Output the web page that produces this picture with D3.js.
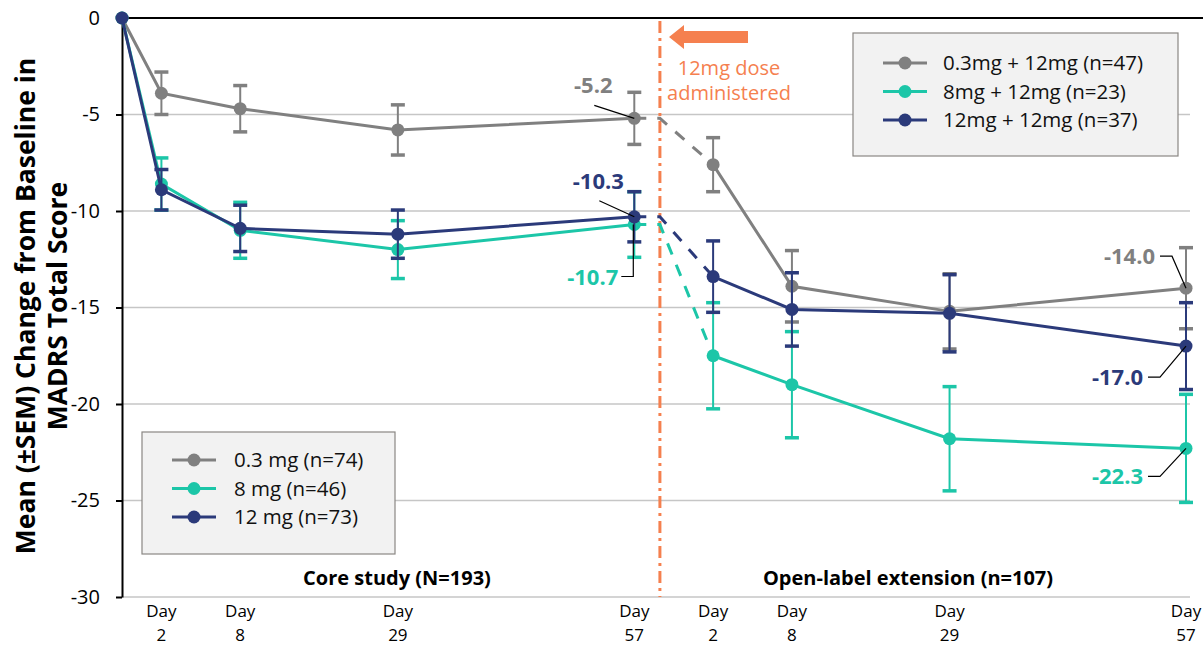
<!DOCTYPE html>
<html>
<head>
<meta charset="utf-8">
<script src="https://cdn.jsdelivr.net/npm/d3@7"></script>
<style>
  body { margin: 0; background: #fff; }
  text { font-family: "Open Sans", "Noto Sans", sans-serif; }
</style>
</head>
<body>
<svg id="chart" width="1203" height="646"></svg>
<script>
// visits: core study (day 0..57) then open-label extension (day 2..57)
var visitDays = ["0", "2", "8", "29", "57", "2", "8", "29", "57"];
var visitPos = [0, 1, 3, 7, 13, 15, 17, 21, 27];   // x value of each visit on the chart
var switchPos = 13.65;                               // 12mg dose administered

var lowMean  = [0, -3.9, -4.7, -5.8, -5.2, -7.6, -13.9, -15.2, -14.0];
var lowSem   = [0, 1.1, 1.2, 1.3, 1.35, 1.4, 1.85, 1.95, 2.1];
var midMean  = [0, -8.6, -11.0, -12.0, -10.7, -17.5, -19.0, -21.8, -22.3];
var midSem   = [0, 1.35, 1.45, 1.5, 1.7, 2.75, 2.75, 2.7, 2.8];
var highMean = [0, -8.9, -10.9, -11.2, -10.3, -13.4, -15.1, -15.3, -17.0];
var highSem  = [0, 1.05, 1.2, 1.25, 1.3, 1.85, 1.9, 2.0, 2.25];

var coreNames = ["0.3 mg (n=74)", "8 mg (n=46)", "12 mg (n=73)"];
var oleNames = ["0.3mg + 12mg (n=47)", "8mg + 12mg (n=23)", "12mg + 12mg (n=37)"];
var colors = ["#808080", "#1cc6a8", "#2b3a7a"];
var yTicks = [0, -5, -10, -15, -20, -25, -30];

var series = [
  { mean: lowMean, sem: lowSem, color: colors[0] },
  { mean: midMean, sem: midSem, color: colors[1] },
  { mean: highMean, sem: highSem, color: colors[2] }
];

var svg = d3.select("#chart");
var x = d3.scaleLinear().domain([0, 27]).range([122, 1186]);
var y = d3.scaleLinear().domain([-30, 0]).range([597, 18]);

// gridlines
svg.append("g").selectAll("line")
  .data(yTicks.filter(function (d) { return d < 0; }))
  .enter().append("line")
  .attr("x1", x(0)).attr("x2", 1190)
  .attr("y1", function (d) { return y(d); })
  .attr("y2", function (d) { return y(d); })
  .attr("stroke", "#c6c6c6").attr("stroke-width", 1.5);

// zero line across the top
svg.append("line")
  .attr("x1", x(0)).attr("x2", 1203)
  .attr("y1", y(0)).attr("y2", y(0))
  .attr("stroke", "#000").attr("stroke-width", 2);

// y axis
var yAxis = svg.append("g")
  .attr("transform", "translate(" + x(0) + ",0)")
  .call(d3.axisLeft(y).tickValues(yTicks).tickSize(6).tickPadding(16).tickSizeOuter(0)
    .tickFormat(function (d) { return String(d); }));
yAxis.select(".domain").attr("stroke", "#000").attr("stroke-width", 2);
yAxis.selectAll(".tick line").attr("stroke", "#000").attr("stroke-width", 2);
yAxis.selectAll(".tick text")
  .attr("font-family", "'Liberation Sans', Arial, sans-serif")
  .attr("font-size", 20).attr("fill", "#000");

// y title
var yTitle = svg.append("text")
  .attr("transform", "translate(0,306) rotate(-90)")
  .attr("text-anchor", "middle")
  .attr("font-family", "'Liberation Sans', Arial, sans-serif")
  .attr("font-weight", "bold").attr("font-size", 26.5).attr("fill", "#000");
yTitle.append("tspan").attr("x", 0).attr("y", 35).text("Mean (\u00b1SEM) Change from Baseline in");
yTitle.append("tspan").attr("x", 0).attr("y", 67).text("MADRS Total Score");

// x tick labels (two lines)
var xl = svg.append("g").selectAll("g")
  .data(visitPos.slice(1))
  .enter().append("g")
  .attr("transform", function (d) { return "translate(" + x(d) + ",0)"; });
xl.append("text").attr("y", 617).attr("text-anchor", "middle")
  .attr("font-size", 17).attr("fill", "#000").text("Day");
xl.append("text").attr("y", 641).attr("text-anchor", "middle")
  .attr("font-size", 17).attr("fill", "#000")
  .text(function (d, i) { return visitDays[i + 1]; });

// section labels
svg.append("text").attr("x", 397).attr("y", 585)
  .attr("text-anchor", "middle").attr("font-weight", "bold").attr("font-size", 20)
  .text("Core study (N=193)");
svg.append("text").attr("x", 908).attr("y", 585)
  .attr("text-anchor", "middle").attr("font-weight", "bold").attr("font-size", 20)
  .text("Open-label extension (n=107)");

// dose switch line + annotation
var orange = "#f5804f";
svg.append("line")
  .attr("x1", x(switchPos)).attr("x2", x(switchPos))
  .attr("y1", y(0) + 3).attr("y2", y(-30))
  .attr("stroke", orange).attr("stroke-width", 3)
  .attr("stroke-dasharray", "12,5,3,5");
svg.append("path")
  .attr("d", "M669,37 L684,25 L684,31 L748,31 L748,43 L684,43 L684,49 Z")
  .attr("fill", orange);
svg.append("text").attr("x", 729).attr("y", 75).attr("text-anchor", "middle")
  .attr("font-size", 20).attr("fill", orange).text("12mg dose");
svg.append("text").attr("x", 729).attr("y", 100).attr("text-anchor", "middle")
  .attr("font-size", 20).attr("fill", orange).text("administered");

// series
var line = d3.line().x(function (d) { return x(d[0]); }).y(function (d) { return y(d[1]); });
series.forEach(function (s) {
  var pts = visitPos.map(function (p, i) { return [p, s.mean[i], s.sem[i]]; });
  var g = svg.append("g");

  // error bars
  pts.filter(function (d) { return d[2] > 0; }).forEach(function (d) {
    g.append("line").attr("x1", x(d[0])).attr("x2", x(d[0]))
      .attr("y1", y(d[1] + d[2])).attr("y2", y(d[1] - d[2]))
      .attr("stroke", s.color).attr("stroke-width", 2);
    [d[1] + d[2], d[1] - d[2]].forEach(function (v) {
      g.append("line").attr("x1", x(d[0]) - 7).attr("x2", x(d[0]) + 7)
        .attr("y1", y(v)).attr("y2", y(v))
        .attr("stroke", s.color).attr("stroke-width", 3.5);
    });
  });

  g.append("path").datum(pts.slice(0, 5)).attr("d", line)
    .attr("fill", "none").attr("stroke", s.color).attr("stroke-width", 3);
  g.append("path").datum([pts[4], [switchPos, s.mean[4]], pts[5]]).attr("d", line)
    .attr("fill", "none").attr("stroke", s.color).attr("stroke-width", 3)
    .attr("stroke-dasharray", "12,11");
  g.append("path").datum(pts.slice(5)).attr("d", line)
    .attr("fill", "none").attr("stroke", s.color).attr("stroke-width", 3);

  g.selectAll("circle").data(pts).enter().append("circle")
    .attr("cx", function (d) { return x(d[0]); })
    .attr("cy", function (d) { return y(d[1]); })
    .attr("r", 6.5).attr("fill", s.color);
});

// value callouts: [series, visit index, label dx, label dy, leader style]
var callouts = [
  [0, 4, -41, -33, "elbow0"],
  [2, 4, -36, -36, "elbow0"],
  [1, 4, -44, 52, "down"],
  [0, 8, -59, -32, "side"],
  [2, 8, -71, 31, "side"],
  [1, 8, -71, 28, "side"]
];
callouts.forEach(function (c) {
  var s = series[c[0]];
  var px = x(visitPos[c[1]]), py = y(s.mean[c[1]]);
  var lx = px + c[2], ly = py + c[3];
  var pathD;
  if (c[4] === "elbow0") pathD = "M" + (lx + 1) + "," + (ly + 20) + " L" + px + "," + py;
  else if (c[4] === "down") pathD = "M" + (px - 1) + "," + py + " L" + (px - 1) + "," + (ly) + " L" + (lx + 31) + "," + ly;
  else pathD = "M" + (lx + 33) + "," + ly + " L" + (lx + 45) + "," + ly + " L" + px + "," + py;
  svg.append("path").attr("d", pathD).attr("fill", "none")
    .attr("stroke", "#000").attr("stroke-width", 1.2);
  svg.append("text")
    .attr("x", c[4] === "elbow0" ? lx : lx - 2)
    .attr("y", ly + 8)
    .attr("text-anchor", c[4] === "elbow0" ? "middle" : "end")
    .attr("font-weight", "bold").attr("font-size", 22).attr("fill", s.color)
    .attr("transform", c[4] === "elbow0" ? null : "translate(30,0)")
    .text(s.mean[c[1]].toFixed(1));
});

// legends
function legend(names, bx, by, bw, bh, rowY, tx) {
  var lg = svg.append("g");
  lg.append("rect").attr("x", bx).attr("y", by).attr("width", bw).attr("height", bh)
    .attr("fill", "#f2f2f2").attr("stroke", "#8a8784").attr("stroke-width", 1.2);
  names.forEach(function (n, i) {
    var ry = rowY + i * 28.5;
    lg.append("line").attr("x1", bx + 30).attr("x2", bx + 74).attr("y1", ry).attr("y2", ry)
      .attr("stroke", colors[i]).attr("stroke-width", 3);
    lg.append("circle").attr("cx", bx + 52).attr("cy", ry).attr("r", 6.5).attr("fill", colors[i]);
    lg.append("text").attr("x", tx).attr("y", ry + 7).attr("font-size", 20.5)
      .attr("fill", "#111").text(n);
  });
}
legend(coreNames, 142, 432, 253, 122, 460, 234);
legend(oleNames, 853, 33, 325, 123, 63, 943);
</script>
</body>
</html>
